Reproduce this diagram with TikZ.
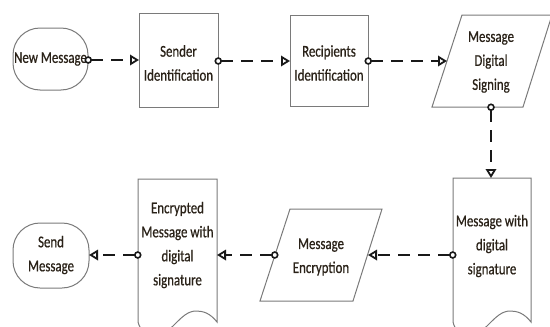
\documentclass[tikz,border=0pt]{standalone}
\usepackage{fontspec}
\setmainfont[FakeStretch=0.78,FakeBold=0.6]{Carlito}
\usetikzlibrary{arrows.meta}
\definecolor{edge}{HTML}{7A7A7A}
\definecolor{ink}{HTML}{2A2218}
\tikzset{
  shapeline/.style={draw=edge, line width=1pt, fill=white},
  lbl/.style={align=center, text=ink, font=\fontsize{16.5}{24}\selectfont, inner sep=0pt},
  conn/.style={draw=black!90, line width=2.6pt, dash pattern=on 12pt off 8pt,
    shorten <=-3.5pt,
    {Circle[length=7.5pt,width=7.5pt,line width=1.6pt,fill=white]}-{Triangle[length=9pt,width=10.5pt,line width=1.8pt,fill=white]}}
}
\begin{document}
\begin{tikzpicture}[x=1pt,y=-1pt]
\useasboundingbox (0,0) rectangle (550,327);
\clip (0,0) rectangle (550,327);
% terminals
\draw[shapeline, rounded corners=27pt] (13,28) rectangle (88,90);
\node[lbl] (newmsg) at (50.5,59) {New Message};
\draw[shapeline, rounded corners=27pt] (13,223) rectangle (89,288);
\node[lbl] (sendmsg) at (51,255) {Send\\Message};
% process boxes
\draw[shapeline] (139,13) rectangle (218,107);
\node[lbl] (sender) at (178.5,63) {Sender\\Identification};
\draw[shapeline] (290,15) rectangle (368,106);
\node[lbl] (recip) at (329,63) {Recipients\\Identification};
% parallelograms
\draw[shapeline] (462,15) -- (552,15) -- (523,107) -- (432,107) -- cycle;
\node[lbl] (signing) at (491,62) {Message\\Digital\\Signing};
\draw[shapeline] (290,209) -- (382,209) -- (353,301) -- (260,301) -- cycle;
\node[lbl] (encrypt) at (321,257) {Message\\Encryption};
% documents
\draw[shapeline] (453,178) -- (531,178) -- (531,322)
  .. controls (524,313) and (517,311) .. (510,311)
  .. controls (494,311) and (485,336) .. (469,336)
  .. controls (460,336) and (455,330) .. (453,322) -- cycle;
\node[lbl] (signed) at (492,246) {Message with\\digital\\signature};
\draw[shapeline] (138,179) -- (217,179) -- (217,322)
  .. controls (210,313) and (203,311) .. (196,311)
  .. controls (180,311) and (171,336) .. (155,336)
  .. controls (146,336) and (140,330) .. (138,322) -- cycle;
\node[lbl] (encdoc) at (177.5,245) {Encrypted\\Message with\\digital\\signature};
% connector anchors
\coordinate (c1s) at (88,60);   \coordinate (c1e) at (139,60);
\coordinate (c2s) at (218,61);  \coordinate (c2e) at (290,61);
\coordinate (c3s) at (368,61);  \coordinate (c3e) at (447,61);
\coordinate (c4s) at (491,107); \coordinate (c4e) at (491,178);
\coordinate (c5s) at (453,255); \coordinate (c5e) at (368,255);
\coordinate (c6s) at (275,255); \coordinate (c6e) at (217,255);
\coordinate (c7s) at (138,255); \coordinate (c7e) at (89,255);
\draw[conn] (c1s) -- (c1e);
\draw[conn] (c2s) -- (c2e);
\draw[conn] (c3s) -- (c3e);
\draw[conn] (c4s) -- (c4e);
\draw[conn] (c5s) -- (c5e);
\draw[conn] (c6s) -- (c6e);
\draw[conn] (c7s) -- (c7e);
\end{tikzpicture}
\end{document}
